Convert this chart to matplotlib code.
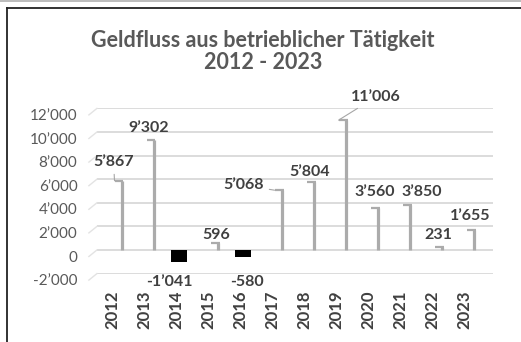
import matplotlib.pyplot as plt
from matplotlib.lines import Line2D
from matplotlib.transforms import ScaledTranslation

years = ["2012", "2013", "2014", "2015", "2016", "2017",
         "2018", "2019", "2020", "2021", "2022", "2023"]
cashflow = [5867, 9302, -1041, 596, -580, 5068, 5804, 11006, 3560, 3850, 231, 1655]
value_labels = ["5’867", "9’302", "-1’041", "596", "-580", "5’068",
                "5’804", "11’006", "3’560", "3’850", "231", "1’655"]
yticks = [-2000, 0, 2000, 4000, 6000, 8000, 10000, 12000]
ytick_labels = ["-2’000", "0", "2’000", "4’000", "6’000", "8’000", "10’000", "12’000"]

# label offsets in pixels (dx, dy) from the top-left corner of each column
label_offsets = [(-1, 19), (2, 12), (-9, -20), (6, 8), (4, -25), (-31, 5),
                 (3, 10), (37, 23), (4, 16), (19, 13), (4, 12), (4, 14)]
leaders = {0, 5, 7}

plt.rcParams['font.family'] = ['Lato', 'DejaVu Sans']

fig = plt.figure(figsize=(5.21, 3.42), dpi=100)
ax = fig.add_axes([0.186, 0.2, 0.76, 0.483])

x = list(range(len(years)))
ax.set_xlim(-0.47, 11.9)
ax.set_ylim(-2000, 12000)

# gridlines on the back wall plus the short slanted wall edges on the left
for t in yticks:
    ax.axhline(t, color="#d9d9d9", lw=1.3, zorder=0)
    ax.plot([-0.72, -0.47], [t - 550, t], color="#e3e3e3", lw=1.0,
            clip_on=False, zorder=0)

for i, v in enumerate(cashflow):
    if v >= 0:
        # thin 3d column: visible right side plus top edge
        ax.vlines(i + 0.3, 0, v, color="#ababab", lw=2.3, zorder=3)
        ax.hlines(v, i + 0.08, i + 0.36, color="#ababab", lw=1.6, zorder=3)
    else:
        ax.bar(i + 0.1, v, width=0.5, color="black", zorder=3)

for i, (v, lab) in enumerate(zip(cashflow, value_labels)):
    dx, dy = label_offsets[i]
    arrow = None
    if i in leaders:
        arrow = dict(arrowstyle="-", color="#a6a6a6", lw=0.8,
                     shrinkA=2, shrinkB=0)
    ax.annotate(lab, xy=(i + 0.08, v), xytext=(dx * 0.72, dy * 0.72),
                textcoords="offset points", ha="center", va="center",
                fontsize=11.5, fontweight="bold", color="#404040",
                arrowprops=arrow, annotation_clip=False, zorder=4)

ax.set_yticks(yticks)
ax.set_yticklabels(ytick_labels, fontsize=11, color="#595959")
ax.set_xticks(x)
ax.set_xticklabels(years, rotation=90, fontsize=12, fontweight="bold",
                   color="#404040")
ax.tick_params(axis="y", length=0, pad=14)
ax.tick_params(axis="x", length=0, pad=12)
shift = ScaledTranslation(0, -6 / 100, fig.dpi_scale_trans)
for lbl in ax.get_yticklabels():
    lbl.set_transform(lbl.get_transform() + shift)

for s in ax.spines.values():
    s.set_visible(False)

fig.text(0.505, 0.883, "Geldfluss aus betrieblicher Tätigkeit", ha="center",
         va="center", fontsize=15.5, fontweight="bold", color="#595959")
fig.text(0.505, 0.816, "2012 - 2023", ha="center", va="center",
         fontsize=15.5, fontweight="bold", color="#595959")

# outer frame
fig.add_artist(Line2D([0, 1], [0.998, 0.998], color="#b0b0b0", lw=1.2))
fig.add_artist(Line2D([0.0125, 1], [0.976, 0.976], color="#222222", lw=1.3))
fig.add_artist(Line2D([0.0125, 0.0125], [0, 0.976], color="#222222", lw=1.3))

fig.savefig("out.png", dpi=100)
